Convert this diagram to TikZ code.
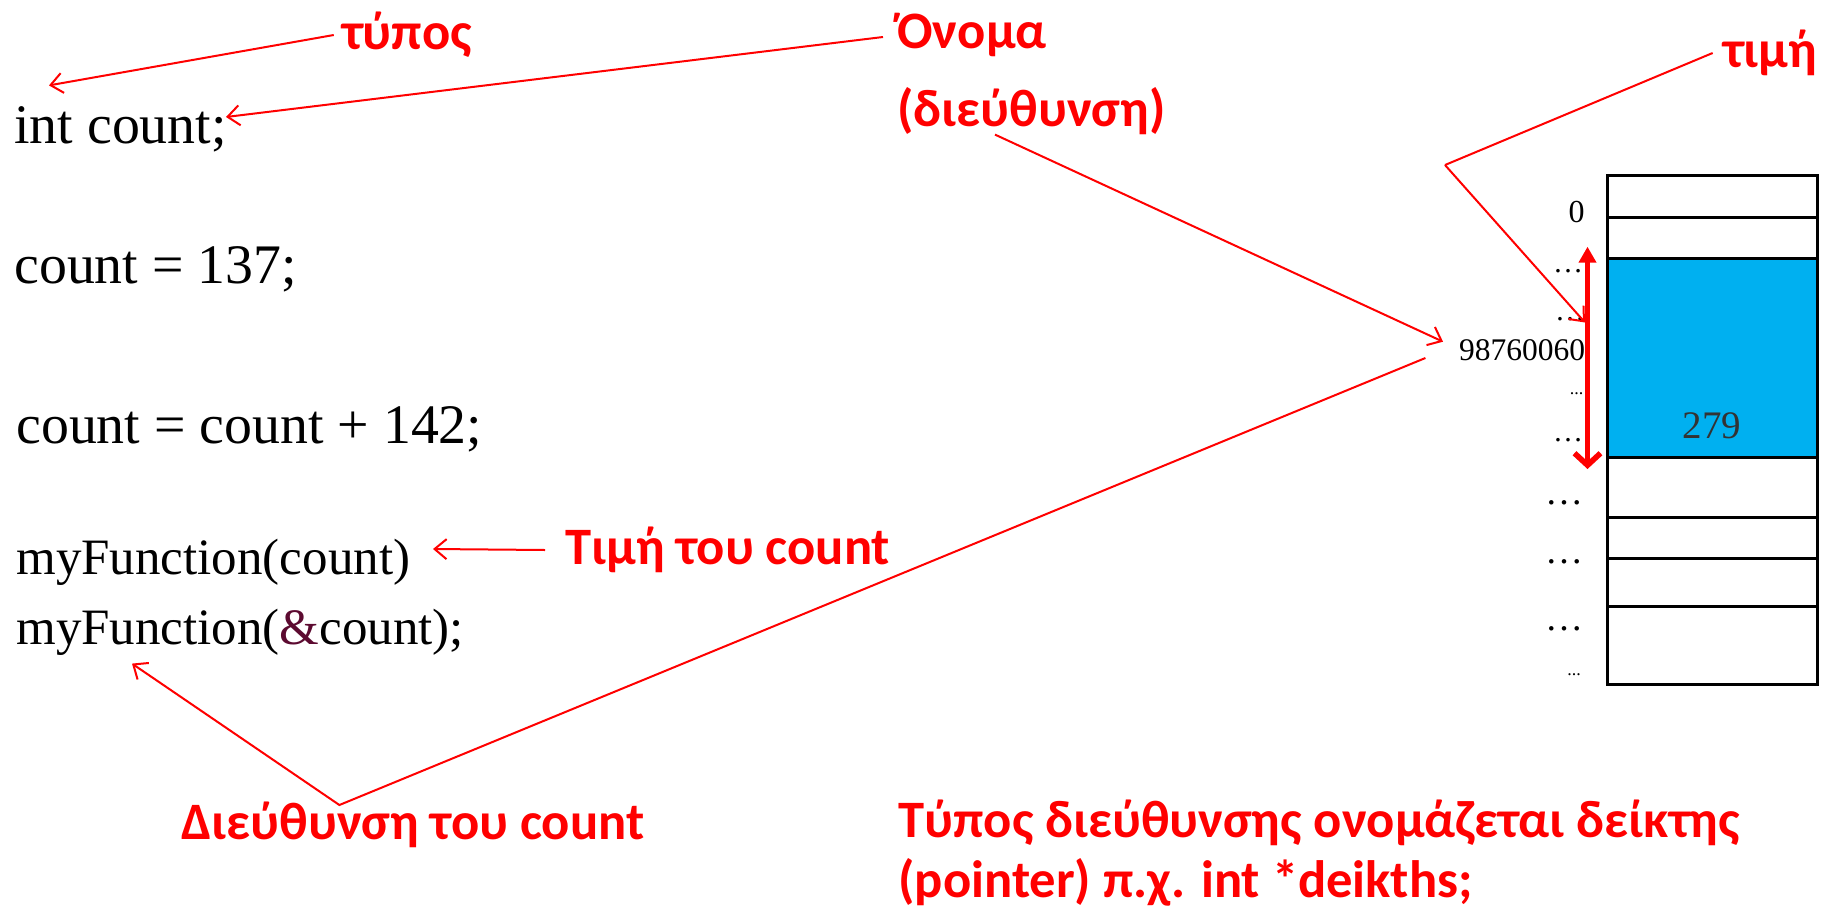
\documentclass[tikz,border=0pt]{standalone}
\usepackage{fontspec}
\setmainfont{Liberation Serif}
\newfontfamily\calb{Carlito}
\usetikzlibrary{arrows.meta}
\definecolor{ampcol}{HTML}{5C0A30}
\definecolor{memblue}{HTML}{00B0F0}
\tikzset{
  codetxt/.style={anchor=west, inner sep=0pt, font=\fontsize{27.9}{30}\selectfont},
  codetxtb/.style={anchor=west, inner sep=0pt, font=\fontsize{25.5}{30}\selectfont},
  redlbl/.style={text=red, inner sep=0pt, font=\calb\bfseries\fontsize{26.3}{32}\selectfont},
  ptr/.style={red, line width=1pt, -{Straight Barb[length=6pt,width=10pt]}},
  pline/.style={red, line width=1pt},
  cell/.style={draw=black, line width=1.5pt},
  dots/.style={anchor=base, inner sep=0pt, font=\fontsize{15}{18}\selectfont},
  bdots/.style={anchor=base, inner sep=0pt, font=\fontsize{19}{22}\selectfont},
  sdots/.style={anchor=base, inner sep=0pt, font=\fontsize{9}{11}\selectfont},
}
\begin{document}
\begin{tikzpicture}[x=0.5pt,y=-0.5pt]
\fill[white] (0,0) rectangle (1835,910);
\useasboundingbox (0,0) rectangle (1835,910);

% code lines
\node[codetxt] (c1) at (14,129) {int count;};
\node[codetxt] (c2) at (14,269) {count = 137;};
\node[codetxt] (c3) at (16,429.5) {count = count + 142;};
\node[codetxtb] (c4) at (16,562) {myFunction(count)};
\node[codetxtb] (c5) at (16,632) {myFunction({\color{ampcol}\&}count);};

% red labels
\node[redlbl] (typos) at (407,35) {τύπος};
\node[redlbl, anchor=west] (onoma) at (897,35) {Όνομα};
\node[redlbl, anchor=west] (dieuth) at (897,111) {(διεύθυνση)};
\node[redlbl] (timi) at (1770,53) {τιμή};
\node[redlbl, anchor=west] (timicount) at (565,550) {Τιμή του count};
\node[redlbl, anchor=west] (dcount) at (181,825) {Διεύθυνση του count};
\node[redlbl, anchor=west] (note1) at (898,823) {Τύπος διεύθυνσης ονομάζεται δείκτης};
\node[redlbl, anchor=west] (note2) at (898,882) {(pointer) π.χ. int *deikths;};

% memory
\fill[memblue] (1607,258.6) rectangle (1817.5,457.6);
\draw[cell] (1607,175.5) rectangle (1817.5,684.6);
\foreach \yy in {217.7,258.6,457.6,517.3,558.2,606.2}
  \draw[cell] (1607,\yy) -- (1817.5,\yy);
\node[inner sep=0pt, font=\fontsize{16}{18}\selectfont] (zero) at (1576.5,211.6) {0};
\node[inner sep=0pt, font=\fontsize{15.75}{18}\selectfont] (addr) at (1522,350) {98760060};
\node[inner sep=0pt, font=\fontsize{19.5}{22}\selectfont, text=black!80] (val) at (1712,426) {279};
\node[dots] (d1) at (1568,272) {…};
\node[dots] (d2) at (1570,320) {…};
\node[sdots] (d3) at (1576.5,394) {...};
\node[dots] (d4) at (1568,441) {…};
\node[bdots] (d5) at (1564.5,504) {…};
\node[bdots] (d6) at (1564.5,563) {…};
\node[bdots] (d7) at (1564.5,630) {…};
\node[sdots] (d8) at (1574,675) {...};

% coordinates
\coordinate (typosTip) at (49,85.4);
\coordinate (onomaTip) at (226,117);
\coordinate (dieuthStart) at (995,134.6);
\coordinate (addrTip) at (1443,341.7);
\coordinate (valStart) at (1425.4,358);
\coordinate (bend) at (339.4,805);
\coordinate (refTip) at (132,663.6);
\coordinate (timiBend) at (1445,165);
\coordinate (timiTip) at (1585,322.5);
\coordinate (cntTip) at (433,549);
\coordinate (arTop) at (1587.5,246.7);
\coordinate (arBot) at (1587.5,469);

% connectors
\draw[ptr] ([xshift=-4pt]typos.west) -- (typosTip);
\draw[ptr] ([xshift=-7pt,yshift=-1pt]onoma.west) -- (onomaTip);
\draw[ptr] (dieuthStart) -- (addrTip);
\draw[ptr] (valStart) -- (bend) -- (refTip);
\draw[pline] ([xshift=-5pt,yshift=0pt]timi.west) -- (timiBend);
\draw[ptr] (timiBend) -- (timiTip);
\draw[ptr] ([xshift=-10pt]timicount.west) -- (cntTip);
\draw[red, line width=2.8pt, {Triangle[length=8pt,width=8.5pt]}-{Straight Barb[length=6pt,width=13pt]}] (arTop) -- (arBot);
\end{tikzpicture}
\end{document}
